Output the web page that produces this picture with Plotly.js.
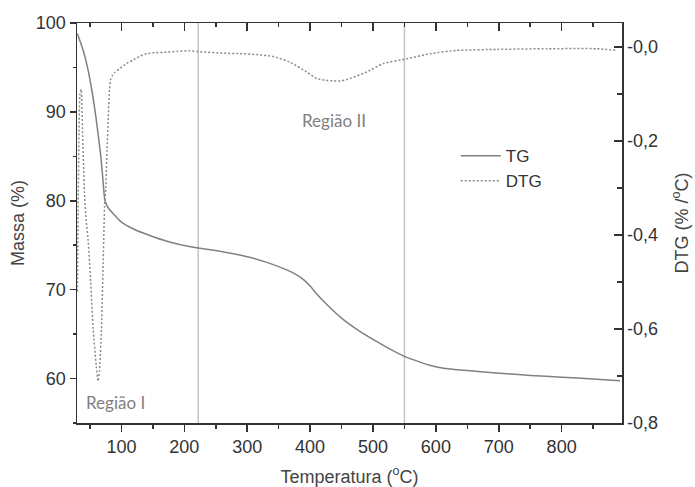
<!DOCTYPE html>
<html>
<head>
<meta charset="utf-8">
<script src="https://cdn.plot.ly/plotly-3.0.1.min.js"></script>
<style>html,body{margin:0;padding:0;background:#fff;}#chart{width:695px;height:487px;}</style>
</head>
<body>
<div id="chart"></div>
<script>
// TG curve (mass %)
var tgTemp = [30, 35, 40, 46, 52, 59, 63, 67, 70, 73.5, 76, 80, 85, 100, 120, 145, 175, 212, 250, 300, 330, 357, 370, 380, 390, 400, 412, 427, 450, 475, 500, 525, 550, 575, 590, 610, 650, 702, 750, 800, 850, 893];
var tgMass = [98.8, 97.8, 96.7, 95.0, 92.8, 89.6, 87.4, 85.1, 82.8, 80.1, 79.6, 79.1, 78.7, 77.6, 76.8, 76.1, 75.4, 74.8, 74.4, 73.7, 73.1, 72.4, 72.0, 71.6, 71.1, 70.4, 69.4, 68.3, 66.8, 65.5, 64.4, 63.4, 62.5, 61.85, 61.5, 61.2, 60.9, 60.6, 60.35, 60.15, 59.95, 59.75];

// DTG curve (%/°C)
var dtgTemp = [30, 31, 32.5, 34, 36, 38.5, 41.5, 44, 47, 51, 55, 60, 62.7, 65, 68, 70.7, 73.4, 75, 77, 79, 81, 83, 86, 90, 97, 108, 118, 130, 140, 155, 172, 190, 209, 225, 260, 288, 315, 341, 368, 394.6, 410.5, 425, 437, 450, 463.5, 490, 516.6, 553.8, 591, 633, 697, 777, 856, 888];
var dtgVal = [-0.52, -0.35, -0.18, -0.10, -0.09, -0.20, -0.32, -0.37, -0.41, -0.50, -0.60, -0.68, -0.711, -0.69, -0.61, -0.47, -0.33, -0.30, -0.22, -0.15, -0.09, -0.068, -0.06, -0.053, -0.046, -0.035, -0.028, -0.019, -0.014, -0.012, -0.011, -0.009, -0.008, -0.010, -0.013, -0.014, -0.016, -0.020, -0.032, -0.053, -0.067, -0.071, -0.072, -0.072, -0.067, -0.053, -0.035, -0.025, -0.014, -0.007, -0.005, -0.0035, -0.0035, -0.007];

// Region boundaries (°C)
var regionBounds = [222, 550];

// Tick labels
var massTicks = [60, 70, 80, 90, 100];
var dtgTickVals = [-0.8, -0.6, -0.4, -0.2, 0];
var dtgTickText = ["-0,8", "-0,6", "-0,4", "-0,2", "-0,0"];

// Region labels
var regionLabels = ["Região I", "Região II"];
var regionLabelX = [91, 438];
var regionLabelY = [57.3, 89.0];

var xRange = [29.3, 896];
var axisColor = '#333';
var tickFont = {family: 'Liberation Sans, Arial, sans-serif', size: 18, color: '#333'};
var titleFont = {family: 'Liberation Sans, Arial, sans-serif', size: 18, color: '#444'};

var traces = [
  {x: tgTemp, y: tgMass, type: 'scatter', mode: 'lines', name: 'TG',
   line: {color: '#808080', width: 1.5, shape: 'spline', smoothing: 0.6}, xaxis: 'x', yaxis: 'y', legendgroup: 'a'},
  {x: dtgTemp, y: dtgVal, type: 'scatter', mode: 'lines', name: 'DTG',
   line: {color: '#8a8a8a', width: 1.5, dash: '2px,2px', shape: 'spline', smoothing: 0.4}, xaxis: 'x2', yaxis: 'y2', legendgroup: 'b'}
];

var shapes = regionBounds.map(function (b) {
  return {type: 'line', xref: 'x', yref: 'paper', x0: b, x1: b, y0: 0, y1: 1,
          line: {color: '#c4c4c4', width: 1.5}, layer: 'below'};
});

var annotations = regionLabels.map(function (t, i) {
  return {text: t, x: regionLabelX[i], y: regionLabelY[i], xref: 'x', yref: 'y',
          showarrow: false, font: {family: 'Lato, Carlito, sans-serif', size: 17, color: '#7f7f7f'}};
});

var layout = {
  width: 695, height: 487,
  margin: {l: 77, r: 73, t: 23, b: 64},
  paper_bgcolor: '#ffffff', plot_bgcolor: '#ffffff',
  showlegend: true,
  legend: {x: 0.695, y: 0.712, xanchor: 'left', yanchor: 'top', bgcolor: 'rgba(0,0,0,0)',
           font: {family: 'Liberation Sans, Arial, sans-serif', size: 17, color: '#333'},
           itemwidth: 40, traceorder: 'grouped', tracegroupgap: 0},
  xaxis: {range: xRange, tick0: 0, dtick: 100, ticks: 'outside', ticklen: 7, tickwidth: 1.5, tickcolor: axisColor,
          minor: {dtick: 50, ticks: 'outside', ticklen: 4, tickwidth: 1.5, tickcolor: axisColor},
          showline: true, linecolor: axisColor, linewidth: 1.5, showgrid: false, zeroline: false,
          tickfont: tickFont,
          title: {text: 'Temperatura (<sup>o</sup>C)', font: titleFont, standoff: 14}},
  xaxis2: {range: xRange, overlaying: 'x', side: 'top', anchor: 'y2', tick0: 0, dtick: 100,
           ticks: 'inside', ticklen: 8, tickwidth: 1.5, tickcolor: axisColor,
           minor: {dtick: 50, ticks: 'inside', ticklen: 4, tickwidth: 1.5, tickcolor: axisColor},
           showline: true, linecolor: axisColor, linewidth: 1.5, showgrid: false, zeroline: false,
           showticklabels: false},
  yaxis: {range: [55, 100], tickvals: massTicks, ticks: 'outside', ticklen: 6, tickwidth: 1.5, tickcolor: axisColor,
          minor: {dtick: 5, ticks: 'outside', ticklen: 3, tickwidth: 1.5, tickcolor: axisColor},
          showline: true, linecolor: axisColor, linewidth: 1.5, showgrid: false, zeroline: false,
          tickfont: tickFont,
          title: {text: 'Massa (%)', font: titleFont, standoff: 6}},
  yaxis2: {range: [-0.8, 0.0512], overlaying: 'y', side: 'right', anchor: 'x2',
           tickvals: dtgTickVals, ticktext: dtgTickText, ticks: 'inside', ticklen: 8, tickwidth: 1.5, tickcolor: axisColor,
           minor: {dtick: 0.1, ticks: 'inside', ticklen: 5, tickwidth: 1.5, tickcolor: axisColor},
           showline: true, linecolor: axisColor, linewidth: 1.5, showgrid: false, zeroline: false,
           tickfont: tickFont,
           title: {text: 'DTG (% /<sup>o</sup>C)', font: titleFont, standoff: 18}},
  shapes: shapes,
  annotations: annotations
};

Plotly.newPlot('chart', traces, layout, {displayModeBar: false, staticPlot: true});
</script>
</body>
</html>
